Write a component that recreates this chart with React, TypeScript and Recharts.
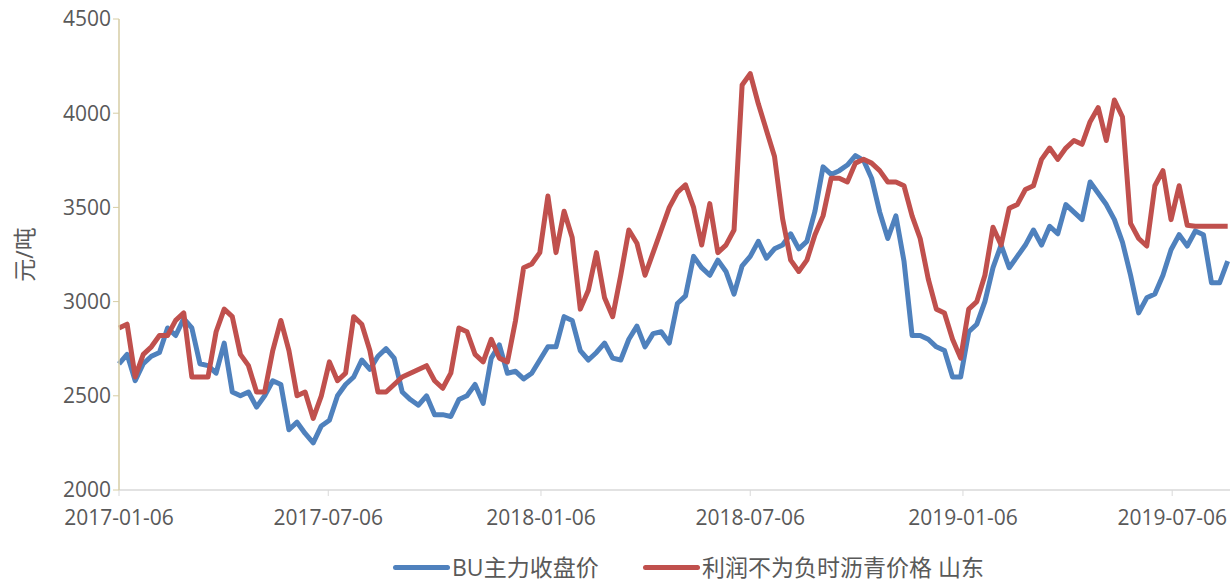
import { Label, Legend, Line, LineChart, XAxis, YAxis } from "recharts";

// weekly samples starting 2017-01-06
const buClose = [
  2670, 2720, 2580, 2670, 2710, 2730, 2860, 2820, 2910, 2860,
  2670, 2660, 2620, 2780, 2520, 2500, 2520, 2440, 2500, 2580,
  2560, 2320, 2360, 2300, 2250, 2340, 2370, 2500, 2560, 2600,
  2690, 2640, 2710, 2750, 2700, 2520, 2480, 2450, 2500, 2400,
  2400, 2390, 2480, 2500, 2560, 2460, 2700, 2770, 2620, 2630,
  2590, 2620, 2690, 2760, 2760, 2920, 2900, 2740, 2690, 2730,
  2780, 2700, 2690, 2800, 2870, 2760, 2830, 2840, 2780, 2990,
  3030, 3240, 3180, 3140, 3220, 3160, 3040, 3190, 3240, 3320,
  3230, 3280, 3300, 3360, 3280, 3320, 3480, 3715, 3675, 3695,
  3725, 3775, 3750, 3655, 3475, 3335, 3455, 3215, 2820, 2820,
  2800, 2760, 2740, 2600, 2600, 2840, 2880, 3000, 3180, 3300,
  3180, 3240, 3300, 3380, 3300, 3400, 3360, 3515, 3475, 3435,
  3635, 3575, 3515, 3435, 3315, 3140, 2940, 3020, 3040, 3140,
  3275, 3355, 3295, 3375, 3355, 3100, 3100, 3215,
];

const sdPrice = [
  2860, 2880, 2600, 2720, 2760, 2820, 2820, 2900, 2940, 2600,
  2600, 2600, 2840, 2960, 2920, 2720, 2660, 2520, 2520, 2740,
  2900, 2740, 2500, 2520, 2380, 2500, 2680, 2580, 2620, 2920,
  2880, 2740, 2520, 2520, 2560, 2600, 2620, 2640, 2660, 2580,
  2540, 2620, 2860, 2840, 2720, 2680, 2800, 2700, 2680, 2900,
  3180, 3200, 3260, 3560, 3260, 3480, 3340, 2960, 3060, 3260,
  3020, 2920, 3140, 3380, 3310, 3140, 3260, 3380, 3500, 3580,
  3620, 3500, 3300, 3520, 3260, 3300, 3380, 4150, 4210, 4050,
  3910, 3770, 3440, 3220, 3160, 3220, 3355, 3455, 3655, 3655,
  3635, 3735, 3755, 3735, 3695, 3635, 3635, 3615, 3455, 3335,
  3120, 2960, 2940, 2800, 2700, 2960, 3000, 3140, 3395, 3300,
  3495, 3515, 3595, 3615, 3755, 3815, 3755, 3815, 3855, 3835,
  3955, 4030, 3855, 4070, 3980, 3415, 3335, 3295, 3615, 3695,
  3435, 3615, 3405, 3400, 3400, 3400, 3400, 3400,
];

const tickDays = [0, 181, 365, 546, 730, 911];
const tickLabels = ["2017-01-06", "2017-07-06", "2018-01-06", "2018-07-06", "2019-01-06", "2019-07-06"];
const yTicks = [2000, 2500, 3000, 3500, 4000, 4500];

const seriesNames = ["BU主力收盘价", "利润不为负时沥青价格 山东"];
const BLUE = "#4F81BD";
const RED = "#C0504D";
const FONT = '"Open Sans", "Noto Sans CJK SC", sans-serif';

const data = buClose.map((v, i) => ({ day: i * 7, bu: v, sd: sdPrice[i] }));

function LegendBox() {
  const item = (color: string, name: string, w: number) => (
    <div style={{ display: "flex", alignItems: "center", width: w }}>
      <div style={{ width: 57, height: 5, background: color, borderRadius: 3, marginRight: 2, flexShrink: 0 }} />
      <span style={{ fontSize: 23, lineHeight: "26px", color: "#595959", fontFamily: FONT, whiteSpace: "nowrap" }}>
        {name}
      </span>
    </div>
  );
  return (
    <div style={{ display: "flex", height: 26, alignItems: "center", paddingLeft: 393 }}>
      {item(BLUE, seriesNames[0], 250)}
      {item(RED, seriesNames[1], 400)}
    </div>
  );
}

function YTitle(props: any) {
  const { viewBox } = props;
  const cx = 24;
  const cy = viewBox.y + viewBox.height / 2;
  return (
    <text
      x={cx}
      y={cy}
      transform={`rotate(-90 ${cx} ${cy})`}
      textAnchor="middle"
      dominantBaseline="central"
      fill="#595959"
      fontSize={23}
      fontFamily={FONT}
    >
      元/吨
    </text>
  );
}

export default function App() {
  return (
    <div style={{ position: "absolute", left: 0, top: 0, background: "#fff" }}>
      <LineChart width={1230} height={585} data={data} margin={{ top: 19, right: 0, bottom: 5, left: 0 }}>
        <XAxis
          type="number"
          dataKey="day"
          domain={[0, 961]}
          ticks={tickDays}
          tickFormatter={(v: number) => tickLabels[tickDays.indexOf(v)]}
          axisLine={{ stroke: "#D9D9D9", strokeWidth: 1.5 }}
          tickLine={{ stroke: "#D9D9D9" }}
          tickSize={6}
          tickMargin={14}
          height={64}
          tick={{ fill: "#595959", fontSize: 21, fontFamily: FONT }}
          interval={0}
        />
        <YAxis
          domain={[2000, 4500]}
          ticks={yTicks}
          width={119}
          axisLine={{ stroke: "#D6CDA4", strokeWidth: 1.5 }}
          tickLine={{ stroke: "#D6CDA4" }}
          tickSize={6}
          tickMargin={2}
          tick={{ fill: "#595959", fontSize: 21, fontFamily: FONT }}
          allowDataOverflow
        >
          <Label content={<YTitle />} />
        </YAxis>
        <Legend verticalAlign="bottom" content={() => <LegendBox />} />
        <Line
          type="linear"
          dataKey="bu"
          stroke={BLUE}
          strokeWidth={5}
          dot={false}
          strokeLinejoin="round"
          isAnimationActive={false}
        />
        <Line
          type="linear"
          dataKey="sd"
          stroke={RED}
          strokeWidth={5}
          dot={false}
          strokeLinejoin="round"
          isAnimationActive={false}
        />
      </LineChart>
    </div>
  );
}
